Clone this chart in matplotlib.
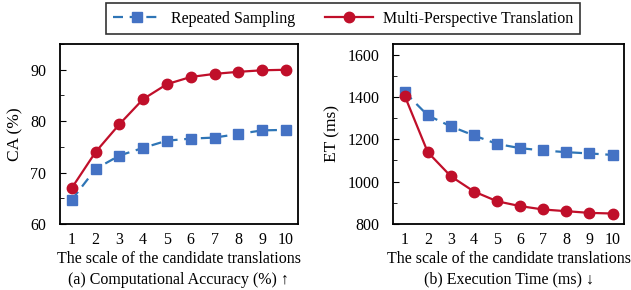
import matplotlib.pyplot as plt
from matplotlib.ticker import MultipleLocator

plt.rcParams['font.family'] = ['Liberation Serif', 'DejaVu Serif']
plt.rcParams['font.size'] = 11.5

scales = list(range(1, 11))

ca_repeated = [64.7, 70.7, 73.3, 74.8, 76.2, 76.6, 76.8, 77.5, 78.2, 78.3]
ca_multi = [67.0, 74.0, 79.4, 84.3, 87.2, 88.6, 89.2, 89.6, 89.9, 90.0]

et_repeated = [1423, 1313, 1261, 1218, 1178, 1158, 1147, 1139, 1133, 1126]
et_multi = [1406, 1139, 1025, 953, 907, 884, 868, 860, 852, 849]

blue = '#2E75B6'
blue_marker = '#4472C4'
red = '#C00F2A'

fig = plt.figure(figsize=(6.31, 2.9), dpi=100)
ax1 = fig.add_axes([0.095, 0.228, 0.377, 0.62])
ax2 = fig.add_axes([0.623, 0.228, 0.366, 0.62])


def draw(ax, rep, multi, ylabel, ylim, major, minor, title):
    l1, = ax.plot(scales, rep, '--s', color=blue, mfc=blue_marker, mec=blue_marker,
                  ms=7.5, lw=1.6, dashes=(4.5, 3), label='Repeated Sampling')
    l2, = ax.plot(scales, multi, '-o', color=red, ms=7.5, lw=1.6,
                  label='Multi-Perspective Translation')
    ax.set_xlim(0.5, 10.5)
    ax.set_ylim(*ylim)
    ax.set_xticks(scales)
    ax.yaxis.set_major_locator(MultipleLocator(major))
    ax.yaxis.set_minor_locator(MultipleLocator(minor))
    ax.tick_params(axis='both', labelsize=11.5)
    ax.tick_params(axis='x', length=0, pad=6)
    ax.tick_params(axis='y', which='major', length=4, direction='in', pad=10)
    ax.tick_params(axis='y', which='minor', length=3, direction='in')
    for s in ax.spines.values():
        s.set_linewidth(1.3)
    ax.set_ylabel(ylabel, fontsize=12.5, labelpad=5)
    ax.set_xlabel('The scale of the candidate translations', labelpad=2)
    pos = ax.get_position()
    fig.text((pos.x0 + pos.x1) / 2, 0.036, title, ha='center', va='center')
    return l1, l2


l1, l2 = draw(ax1, ca_repeated, ca_multi, 'CA (%)', (60, 95), 10, 5,
              '(a) Computational Accuracy (%) \u2191')
draw(ax2, et_repeated, et_multi, 'ET (ms)', (800, 1650), 200, 100,
     '(b) Execution Time (ms) \u2193')

leg = fig.legend(handles=[l1, l2], loc='upper center', bbox_to_anchor=(0.544, 0.988),
                 ncol=2, frameon=True, fancybox=False, edgecolor='black',
                 handlelength=3.0, columnspacing=1.9, borderpad=0.45,
                 handletextpad=0.6, borderaxespad=0)
leg.get_frame().set_linewidth(1.2)

fig.savefig('out.png', dpi=100)
